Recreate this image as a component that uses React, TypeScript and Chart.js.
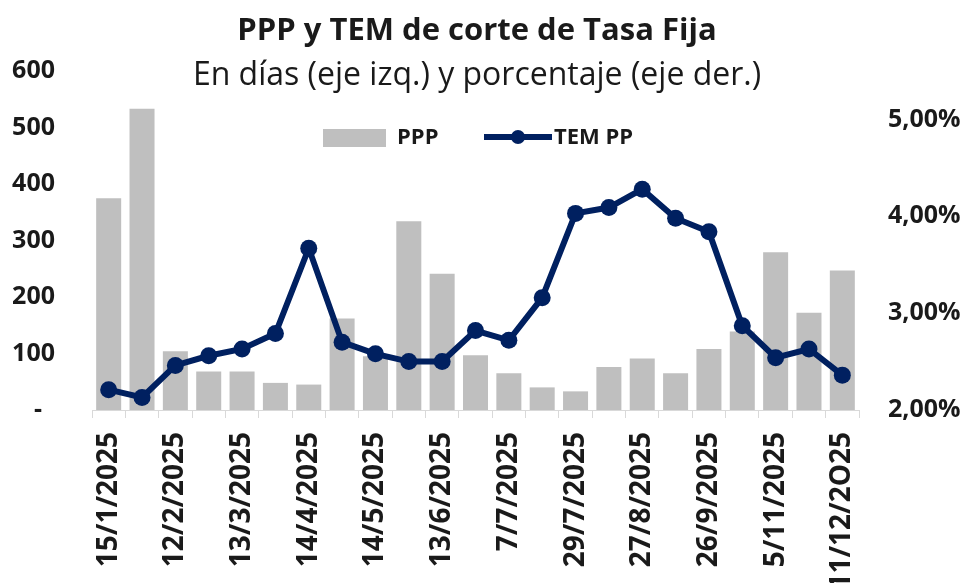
import React, { useEffect, useRef } from "react";
import { Chart, registerables } from "chart.js";

Chart.register(...registerables);

const TITLE = "PPP y TEM de corte de Tasa Fija";
const SUBTITLE = "En días (eje izq.) y porcentaje (eje der.)";

const categories = [
  "15/1/2025", "", "12/2/2025", "", "13/3/2025", "", "14/4/2025", "",
  "14/5/2025", "", "13/6/2025", "", "7/7/2025", "", "29/7/2025", "",
  "27/8/2025", "", "26/9/2025", "", "5/11/2025", "", "11/12/2O25",
];

const pppValues = [375, 533, 104, 68, 68, 48, 45, 162, 95, 334, 241, 97, 65, 40, 33, 76, 91, 65, 108, 139, 279, 172, 247];
const temValues = [2.21, 2.13, 2.46, 2.56, 2.63, 2.79, 3.67, 2.70, 2.58, 2.50, 2.50, 2.82, 2.72, 3.16, 4.03, 4.09, 4.28, 3.98, 3.84, 2.87, 2.54, 2.63, 2.36];

const leftTicks = [0, 100, 200, 300, 400, 500, 600];
const rightTicks = [2, 3, 4, 5];

const NAVY = "#002060";
const GRAY = "#BFBFBF";
const TEXT = "#1a1a1a";
const FONT = '"Open Sans", "Noto Sans", sans-serif';

const textPlugin = {
  id: "texts",
  afterDraw(chart: any) {
    const ctx = chart.ctx as CanvasRenderingContext2D;
    ctx.save();
    ctx.fillStyle = TEXT;
    ctx.textAlign = "center";
    ctx.textBaseline = "alphabetic";
    ctx.font = `bold 31px ${FONT}`;
    ctx.fillText(TITLE, 477, 40);
    ctx.font = `32px ${FONT}`;
    ctx.fillText(SUBTITLE, 477, 85);

    // legend
    ctx.fillStyle = GRAY;
    ctx.fillRect(323, 129, 63, 18);
    ctx.fillStyle = TEXT;
    ctx.textAlign = "left";
    ctx.textBaseline = "middle";
    ctx.font = `bold 22px ${FONT}`;
    ctx.fillText("PPP", 397, 138);

    ctx.strokeStyle = NAVY;
    ctx.lineWidth = 6;
    ctx.beginPath();
    ctx.moveTo(484, 137);
    ctx.lineTo(552, 137);
    ctx.stroke();
    ctx.fillStyle = NAVY;
    ctx.beginPath();
    ctx.arc(518, 137, 7, 0, Math.PI * 2);
    ctx.fill();
    ctx.fillStyle = TEXT;
    ctx.fillText("TEM PP", 554, 138);
    ctx.restore();
  },
};

export default function App() {
  const canvasRef = useRef<HTMLCanvasElement | null>(null);

  useEffect(() => {
    if (!canvasRef.current) return;
    const chart = new Chart(canvasRef.current, {
      data: {
        labels: categories,
        datasets: [
          {
            type: "line",
            label: "TEM PP",
            data: temValues,
            yAxisID: "y2",
            borderColor: NAVY,
            backgroundColor: NAVY,
            borderWidth: 6,
            pointRadius: 8.5,
            pointBackgroundColor: NAVY,
            pointBorderColor: NAVY,
            pointBorderWidth: 0,
            tension: 0,
            order: 0,
          },
          {
            type: "bar",
            label: "PPP",
            data: pppValues,
            yAxisID: "y",
            backgroundColor: GRAY,
            borderWidth: 0,
            barPercentage: 0.75,
            categoryPercentage: 1,
            order: 1,
          },
        ],
      },
      options: {
        responsive: false,
        animation: false,
        layout: { padding: { top: 71, left: 0, right: 0, bottom: 0 } },
        plugins: {
          legend: { display: false },
          title: { display: false },
          tooltip: { enabled: false },
        },
        scales: {
          x: {
            type: "category",
            offset: true,
            grid: {
              display: true,
              drawOnChartArea: false,
              drawTicks: true,
              tickLength: 8,
              color: "#D9D9D9",
              offset: true,
            },
            border: { display: true, color: "#D9D9D9", width: 1 },
            ticks: {
              autoSkip: false,
              maxRotation: 90,
              minRotation: 90,
              padding: 14,
              color: TEXT,
              font: { family: FONT, size: 28, weight: "bold" },
            },
            afterFit: (scale: any) => {
              scale.height = 173;
            },
          },
          y: {
            position: "left",
            min: 0,
            max: 600,
            afterBuildTicks: (scale: any) => {
              scale.ticks = leftTicks.map((v) => ({ value: v }));
            },
            grid: { display: false, drawTicks: false },
            border: { display: false },
            ticks: {
              padding: 37,
              color: TEXT,
              font: { family: FONT, size: 25, weight: "bold" },
              callback: (v: any) => (Number(v) === 0 ? "-  " : String(v)),
            },
            afterFit: (scale: any) => {
              scale.width = 92;
            },
          },
          y2: {
            position: "right",
            min: 2,
            max: 5.5,
            afterBuildTicks: (scale: any) => {
              scale.ticks = rightTicks.map((v) => ({ value: v }));
            },
            grid: { display: false, drawTicks: false },
            border: { display: false },
            ticks: {
              padding: 29,
              color: TEXT,
              font: { family: FONT, size: 25, weight: "bold" },
              callback: (v: any) => Number(v).toFixed(2).replace(".", ",") + "%",
            },
            afterFit: (scale: any) => {
              scale.width = 109;
            },
          },
        },
      },
      plugins: [textPlugin],
    } as any);
    return () => chart.destroy();
  }, []);

  return (
    <div style={{ position: "fixed", left: 0, top: 0, width: 968, height: 583, background: "#fff" }}>
      <canvas ref={canvasRef} width={968} height={583} />
    </div>
  );
}
